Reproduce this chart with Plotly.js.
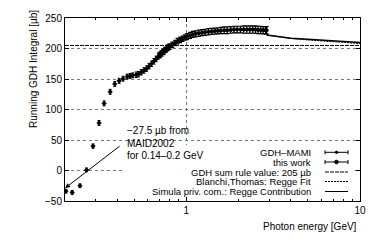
<!DOCTYPE html>
<html>
<head>
<meta charset="utf-8">
<script src="https://cdn.plot.ly/plotly-3.0.1.min.js"></script>
<style>html,body{margin:0;padding:0;background:#fff;}#chart{width:370px;height:241px;}</style>
</head>
<body>
<div id="chart"></div>
<script>
// GDH-MAMI data (photon energy GeV, running integral µb, error)
const mamiE   = [0.2025, 0.22, 0.244, 0.266, 0.29, 0.314, 0.336, 0.364, 0.387, 0.41, 0.432, 0.456, 0.474, 0.491, 0.514, 0.53, 0.55, 0.57, 0.59, 0.61, 0.63, 0.65, 0.67, 0.69, 0.71, 0.73, 0.75, 0.77, 0.79];
const mamiVal = [-34, -36, -25, 1, 40, 78, 110, 129, 142, 147, 150.5, 154, 155, 156, 157, 158, 161, 164, 167, 171, 175, 179, 183, 187, 190, 194, 197, 200, 202];
const mamiErr = [3, 3, 3, 3, 3.5, 4, 4, 4, 4, 4, 4, 4, 4, 4, 4.5, 4.5, 4.5, 4.5, 4.5, 4.5, 4.5, 4.5, 4.5, 4.5, 4.5, 4.5, 4.5, 4.5, 4.5];

// this work (ELSA)
const workE   = [0.70, 0.72, 0.74, 0.76, 0.78, 0.80, 0.83, 0.86, 0.89, 0.92, 0.95, 0.98, 1.01, 1.05, 1.09, 1.13, 1.18, 1.23, 1.28, 1.34, 1.40, 1.46, 1.52, 1.58, 1.65, 1.72, 1.80, 1.88, 1.96, 2.05, 2.14, 2.23, 2.32, 2.41, 2.50, 2.59, 2.68, 2.77, 2.86, 2.90];
const workVal = [189, 192, 195, 198, 201, 203, 206, 209, 212, 214, 216, 218, 219.5, 221.5, 223, 224, 225, 226, 226.5, 227.5, 228, 228.5, 229, 229.5, 230, 230, 230.5, 231, 231, 231, 231, 231, 231, 231, 231, 230.5, 230.5, 230, 230, 230];
const workErr = [4.5, 4.5, 4.5, 4.5, 4.5, 4.5, 4.5, 4.5, 4.5, 4.5, 4.5, 4.5, 5, 5, 5, 5, 5, 5, 5, 5, 5, 5, 5, 5, 5.5, 5.5, 5.5, 5.5, 5.5, 5.5, 6, 6, 6, 6, 6, 6, 6, 6, 6, 6];

// GDH sum rule value
const gdhE   = [0.2, 10];
const gdhVal = [205, 205];

// Regge estimates above 2.9 GeV
const reggeE       = [2.9, 3.5, 4, 5, 6, 7, 8, 10];
const bianchiVal   = [222, 218.5, 216.5, 214, 212, 211, 210, 208];
const simulaVal    = [222, 219, 217, 215, 213.5, 212.5, 211.5, 210];

// Axis ticks
const xTickVals  = [1, 10];
const xTickText  = ['1', '10'];
const xMinorVals = [0.2, 0.3, 0.4, 0.5, 0.6, 0.7, 0.8, 0.9, 2, 3, 4, 5, 6, 7, 8, 9];
const yTickVals  = [-50, 0, 50, 100, 150, 200, 250];

// Legend labels
const legendLabels = ['GDH\u2013MAMI', 'this work', 'GDH sum rule value: 205 \u00b5b', 'Blanchi,Thomas: Regge Fit', 'Simula priv. com.: Regge Contribution'];

const FONT = 'Liberation Sans, Arial, sans-serif';

const traces = [
  {x: gdhE, y: gdhVal, mode: 'lines', line: {color: '#000', width: 1, dash: '4px,1px'}, hoverinfo: 'skip'},
  {x: reggeE, y: bianchiVal, mode: 'lines', line: {color: '#000', width: 1, dash: '2px,1px'}},
  {x: reggeE, y: simulaVal, mode: 'lines', line: {color: '#000', width: 1.5}},
  {x: mamiE, y: mamiVal, mode: 'markers', marker: {symbol: 'diamond', size: 4, color: '#000'},
   error_y: {type: 'data', array: mamiErr, visible: true, color: '#000', thickness: 1, width: 1.5}},
  {x: workE, y: workVal, mode: 'markers', marker: {symbol: 'circle', size: 4, color: '#000'},
   error_y: {type: 'data', array: workErr, visible: true, color: '#000', thickness: 1.2, width: 2}}
];

// plot area in pixels: left 65, right 360, top 18, bottom 201
const L = 65, R = 360, T = 18, B = 201;
const px = v => (v - L) / (R - L);
const py = v => (B - v) / (B - T);

const annotations = [
  {xref: 'paper', yref: 'paper', x: px(125), y: py(130.7), xanchor: 'left', yanchor: 'middle', text: '\u221227.5 \u00b5b from', showarrow: false, font: {family: FONT, size: 10, color: '#000'}},
  {xref: 'paper', yref: 'paper', x: px(125), y: py(143.3), xanchor: 'left', yanchor: 'middle', text: 'MAID2002', showarrow: false, font: {family: FONT, size: 10, color: '#000'}},
  {xref: 'paper', yref: 'paper', x: px(125), y: py(155.3), xanchor: 'left', yanchor: 'middle', text: 'for 0.14\u20130.2 GeV', showarrow: false, font: {family: FONT, size: 10, color: '#000'}},
  {x: Math.log10(0.2), y: -29, xref: 'x', yref: 'y', axref: 'x', ayref: 'y', ax: -0.3757, ay: 41.8, text: '', showarrow: true, arrowhead: 2, arrowsize: 1, arrowwidth: 1, arrowcolor: '#000', standoff: 0},
  {xref: 'paper', yref: 'paper', x: px(33), y: py(69), text: 'Running GDH Integral [\u00b5b]', textangle: -90, showarrow: false, xanchor: 'center', yanchor: 'middle', font: {family: FONT, size: 10, color: '#000'}},
  {xref: 'paper', yref: 'paper', x: px(359), y: py(226), text: 'Photon energy [GeV]', showarrow: false, xanchor: 'right', yanchor: 'middle', font: {family: FONT, size: 10, color: '#000'}}
];

const legendRowsY = [152.3, 162, 172, 181.5, 191.5];
// opaque key area (covers grid lines behind the legend)
const shapes = [
  {type: 'rect', xref: 'paper', yref: 'paper', layer: 'above', x0: px(124), x1: px(355), y0: py(196), y1: py(145), fillcolor: '#ffffff', opacity: 1, line: {width: 0, color: 'rgba(0,0,0,0)'}}
];
const sx0 = 325, sx1 = 348;
legendLabels.forEach((lab, i) => {
  const yy = legendRowsY[i];
  annotations.push({xref: 'paper', yref: 'paper', x: px(313), y: py(yy), xanchor: 'right', yanchor: 'middle', text: lab, showarrow: false, font: {family: FONT, size: 9.5, color: '#000'}});
  let dash = 'solid';
  if (i === 2) dash = '4px,1px';
  if (i === 3) dash = '2px,1px';
  shapes.push({type: 'line', xref: 'paper', yref: 'paper', x0: px(sx0), x1: px(sx1), y0: py(yy), y1: py(yy), line: {color: '#000', width: 1, dash: dash}});
  if (i < 2) {
    shapes.push({type: 'line', xref: 'paper', yref: 'paper', x0: px(sx0), x1: px(sx0), y0: py(yy - 2), y1: py(yy + 2), line: {color: '#000', width: 1}});
    shapes.push({type: 'line', xref: 'paper', yref: 'paper', x0: px(sx1), x1: px(sx1), y0: py(yy - 2), y1: py(yy + 2), line: {color: '#000', width: 1}});
    const r = i === 0 ? 1.2 : 1.8;
    const cx = (sx0 + sx1) / 2;
    shapes.push({type: 'circle', xref: 'paper', yref: 'paper', x0: px(cx - r), x1: px(cx + r), y0: py(yy - r), y1: py(yy + r), fillcolor: '#000', line: {color: '#000', width: 1}});
  }
});

const layout = {
  width: 370, height: 241,
  margin: {l: L, r: 370 - R, t: T, b: 241 - B},
  paper_bgcolor: '#fff', plot_bgcolor: '#fff',
  showlegend: false,
  font: {family: FONT, size: 10, color: '#000'},
  xaxis: {
    type: 'log', range: [Math.log10(0.2), 1],
    tickmode: 'array', tickvals: xTickVals, ticktext: xTickText,
    ticks: 'inside', ticklen: 4, tickcolor: '#000', tickwidth: 1,
    showline: true, linecolor: '#000', linewidth: 1, mirror: 'ticks',
    showgrid: true, gridcolor: '#777', griddash: 'dot', gridwidth: 1,
    zeroline: false,
    minor: {tickmode: 'array', tickvals: xMinorVals, ticks: 'inside', ticklen: 2, tickcolor: '#000', showgrid: false},
    tickfont: {family: FONT, size: 10, color: '#000'}
  },
  yaxis: {
    range: [-50, 250], tickmode: 'array', tickvals: yTickVals,
    ticks: 'inside', ticklen: 4, tickcolor: '#000', tickwidth: 1,
    showline: true, linecolor: '#000', linewidth: 1, mirror: 'ticks',
    showgrid: true, gridcolor: '#777', griddash: 'dot', gridwidth: 1,
    zeroline: false,
    tickfont: {family: FONT, size: 10, color: '#000'}
  },
  annotations: annotations,
  shapes: shapes
};

Plotly.newPlot('chart', traces, layout, {staticPlot: true, displayModeBar: false});
</script>
</body>
</html>
